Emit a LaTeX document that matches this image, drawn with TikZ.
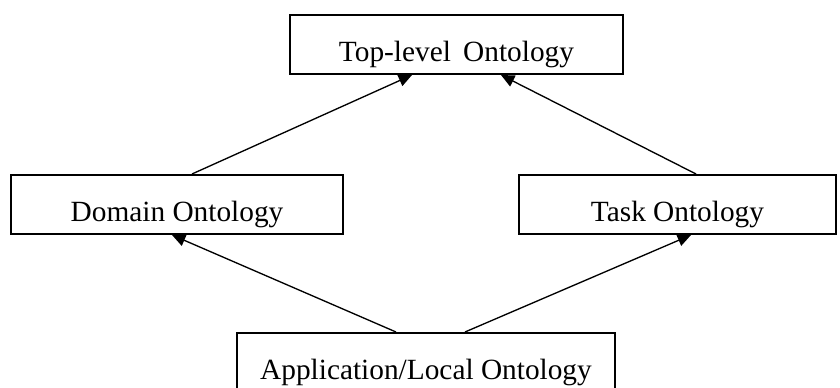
\documentclass[tikz,border=0pt]{standalone}
\usepackage{fontspec}
\setmainfont{Liberation Serif}
\usetikzlibrary{arrows.meta,calc}
\begin{document}
\begin{tikzpicture}[x=0.75pt,y=-0.75pt,
  box/.style={draw=black,line width=1.5pt,fill=white,inner sep=0pt,
    minimum height=44.25pt,text height=30pt,text depth=5.2pt,
    font=\fontsize{22}{25}\selectfont},
  conn/.style={line width=1pt,-{Triangle[length=10pt,width=9pt]}}]
\useasboundingbox (0,0) rectangle (840,388);
\node[box,minimum width=249.75pt] (top) at (456.5,44.5) {Top-level\, Ontology};
\node[box,minimum width=249pt] (dom) at (177,204.5) {Domain Ontology};
\node[box,minimum width=237.75pt] (task) at (677.5,204.5) {Task Ontology};
\node[box,minimum width=283.5pt] (app) at (426,362.5) {Application/Local Ontology};
\draw[conn] ($(dom.north west)+(182,0)$) -- ($(top.south west)+(123,0)$);
\draw[conn] ($(task.north west)+(178,0)$) -- ($(top.south west)+(212,0)$);
\draw[conn] ($(app.north west)+(160,0)$) -- ($(dom.south west)+(162,0)$);
\draw[conn] ($(app.north west)+(229,0)$) -- ($(task.south west)+(173,0)$);
\end{tikzpicture}
\end{document}
